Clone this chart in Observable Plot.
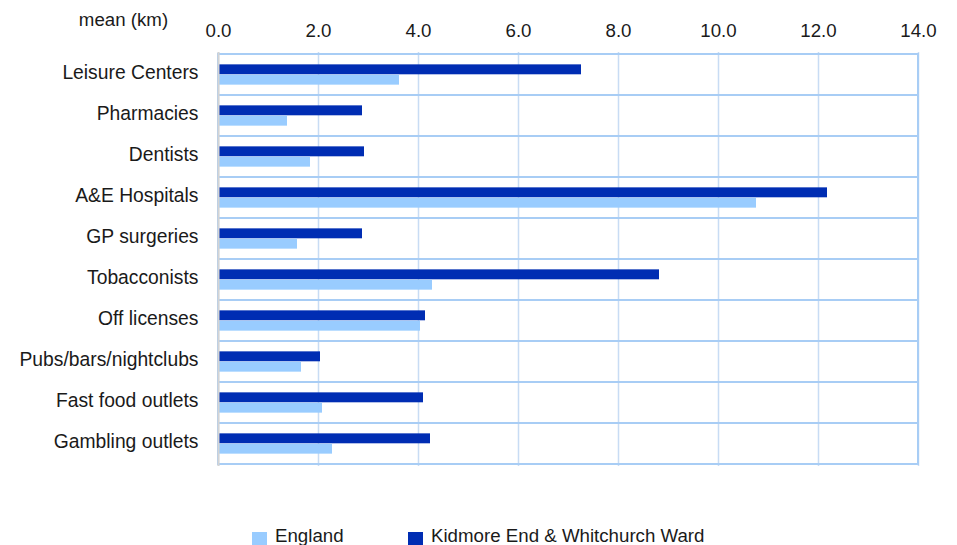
<!DOCTYPE html>
<html>
<head>
<meta charset="utf-8">
<script src="https://cdn.jsdelivr.net/npm/d3@7"></script>
<script src="https://cdn.jsdelivr.net/npm/@observablehq/plot@0.6"></script>
<style>
  body { margin: 0; background: #fff; font-family: "Liberation Sans", Arial, sans-serif; }
  #wrap { position: relative; width: 957px; height: 545px; }
  .item { position: absolute; top: 524px; display: flex; align-items: center; font-size: 18.7px; color: #1a1a1a; line-height: 20px; white-space: nowrap; }
  .sw { width: 15px; height: 15px; display: inline-block; margin-right: 8px; margin-top: 8px; }
</style>
</head>
<body>
<div id="wrap">
  <div id="chart"></div>
</div>
<script>
const categories = ["Leisure Centers", "Pharmacies", "Dentists", "A&E Hospitals", "GP surgeries", "Tobacconists", "Off licenses", "Pubs/bars/nightclubs", "Fast food outlets", "Gambling outlets"];
const england = [3.62, 1.38, 1.84, 10.76, 1.58, 4.28, 4.04, 1.66, 2.08, 2.28];
const kidmore = [7.26, 2.88, 2.92, 12.18, 2.88, 8.82, 4.14, 2.04, 4.10, 4.24];
const seriesNames = ["England", "Kidmore End & Whitchurch Ward"];
const seriesColors = ["#99ccff", "#002db3"];
const xTicks = [0, 2, 4, 6, 8, 10, 12, 14];
const xMax = 14;

const rowsE = categories.map((c, i) => ({category: c, value: england[i]}));
const rowsK = categories.map((c, i) => ({category: c, value: kidmore[i]}));

const H = 505, mt = 52, mb = 39;
const band = (H - mt - mb) / categories.length;
const barH = band * 0.25;
const gap = (band - 2 * barH) / 2;
const fs = 18.7;

const chart = Plot.plot({
  width: 957,
  height: H,
  marginTop: mt,
  marginBottom: mb,
  marginLeft: 218,
  marginRight: 39,
  style: {fontFamily: "Liberation Sans, Arial, sans-serif", fontSize: fs + "px", color: "#1a1a1a"},
  x: {domain: [0, xMax], ticks: xTicks},
  y: {domain: categories, padding: 0},
  marks: [
    Plot.gridX(xTicks, {stroke: "#c8dcf4", strokeOpacity: 1, strokeWidth: 1.5}),
    Plot.barX(categories, {x1: 0, x2: xMax, y: d => d, fill: "none", stroke: "#a8cdf5", strokeWidth: 2}),
    Plot.barX(rowsK, {x: "value", y: "category", fill: seriesColors[1], insetTop: gap, insetBottom: gap + barH}),
    Plot.barX(rowsE, {x: "value", y: "category", fill: seriesColors[0], insetTop: gap + barH, insetBottom: gap}),
    Plot.ruleX([0], {stroke: "#d4d4d4", strokeWidth: 2}),
    Plot.axisX({anchor: "top", ticks: xTicks, tickFormat: d3.format(".1f"), tickSize: 0, tickPadding: 16, label: null, fontSize: fs}),
    Plot.axisY({tickSize: 0, tickPadding: 20, label: null, fontSize: 19.3, dy: -2}),
    Plot.text(["mean (km)"], {frameAnchor: "top-left", dx: -95, dy: -40, text: d => d, fontSize: fs, textAnchor: "middle", fill: "#1a1a1a"})
  ]
});
const wrap = document.getElementById("wrap");
document.getElementById("chart").appendChild(chart);

const legendX = [252, 408];
seriesNames.forEach((name, i) => {
  const it = document.createElement("div");
  it.className = "item";
  it.style.left = legendX[i] + "px";
  const sw = document.createElement("span");
  sw.className = "sw";
  sw.style.background = seriesColors[i];
  const t = document.createElement("span");
  t.textContent = name;
  it.appendChild(sw);
  it.appendChild(t);
  wrap.appendChild(it);
});
</script>
</body>
</html>
